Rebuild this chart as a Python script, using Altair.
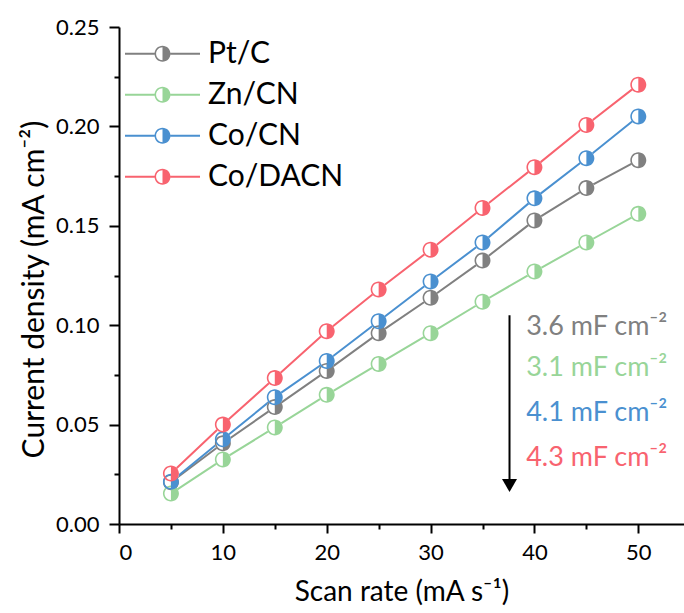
import altair as alt
import pandas as pd

# ---- data ----
scan_rate = [5, 10, 15, 20, 25, 30, 35, 40, 45, 50]
pt_c    = [0.0210, 0.0406, 0.0588, 0.0770, 0.0960, 0.1138, 0.1325, 0.1527, 0.1690, 0.1830]
zn_cn   = [0.0153, 0.0325, 0.0486, 0.0650, 0.0805, 0.0960, 0.1118, 0.1270, 0.1416, 0.1560]
co_cn   = [0.0213, 0.0426, 0.0638, 0.0820, 0.1020, 0.1220, 0.1416, 0.1638, 0.1840, 0.2050]
co_dacn = [0.0254, 0.0500, 0.0734, 0.0970, 0.1180, 0.1380, 0.1590, 0.1795, 0.2007, 0.2210]

series = ["Pt/C", "Zn/CN", "Co/CN", "Co/DACN"]
colors = ["#808080", "#98D598", "#4A90D0", "#F8636F"]

cap_labels = ["3.6 mF cm⁻²", "3.1 mF cm⁻²", "4.1 mF cm⁻²", "4.3 mF cm⁻²"]
cap_x = [39.2, 39.2, 39.2, 39.2]
cap_y = [0.099, 0.0785, 0.0558, 0.0332]

arrow_x = [37.6]
arrow_top = [0.105]
arrow_tip = [0.0194]

x_major = [0, 10, 20, 30, 40, 50]
x_minor = [5, 15, 25, 35, 45]
y_major = [0.0, 0.05, 0.10, 0.15, 0.20, 0.25]
y_minor = [0.025, 0.075, 0.125, 0.175, 0.225]

# ---- tables ----
values = {"Pt/C": pt_c, "Zn/CN": zn_cn, "Co/CN": co_cn, "Co/DACN": co_dacn}
df = pd.DataFrame(
    [{"series": s, "scan_rate": x, "density": v}
     for s in series for x, v in zip(scan_rate, values[s])]
)
ann = pd.DataFrame({"series": series, "label": cap_labels, "x": cap_x, "y": cap_y})
arr = pd.DataFrame({"x": arrow_x, "y": arrow_top, "y2": arrow_tip})

FONT = "Lato"
x_scale = alt.Scale(domain=[0, 54.4], nice=False, zero=False)
y_scale = alt.Scale(domain=[0, 0.25], nice=False)
# same mapping, listed in other orders so that the legend-less channels
# are not merged with the (only) legend of the colour channel
color_scale = alt.Scale(domain=series, range=colors)
stroke_scale = alt.Scale(domain=series[::-1], range=colors[::-1])
fill_scale = alt.Scale(domain=series[1:] + series[:1], range=colors[1:] + colors[:1])

# marker: ring + right half disk (unit coordinates)
R, ri = 1.0, 0.80
MARKER = (f"M{R},0 A{R},{R} 0 1,0 {-R},0 A{R},{R} 0 1,0 {R},0 Z "
          f"M{ri},0 A{ri},{ri} 0 1,1 {-ri},0 A{ri},{ri} 0 1,1 {ri},0 Z "
          f"M0,{-ri} A{ri},{ri} 0 0,1 0,{ri} Z")
# legend symbol: line segments + ring + right half disk, all filled shapes
LR, Lri, w = 0.2133, 0.1707, 0.0267
LEGEND_SYM = (f"M-1,{-w} L{-LR},{-w} L{-LR},{w} L-1,{w} Z "
              f"M{LR},{-w} L1,{-w} L1,{w} L{LR},{w} Z "
              f"M{LR},0 A{LR},{LR} 0 1,0 {-LR},0 A{LR},{LR} 0 1,0 {LR},0 Z "
              f"M{Lri},0 A{Lri},{Lri} 0 1,1 {-Lri},0 A{Lri},{Lri} 0 1,1 {Lri},0 Z "
              f"M0,{-Lri} A{Lri},{Lri} 0 0,1 0,{Lri} Z")

base = alt.Chart(df)
X = alt.X("scan_rate:Q", scale=x_scale, axis=None)
Y = alt.Y("density:Q", scale=y_scale, axis=None)

axes_major = base.mark_point(opacity=0).encode(
    x=alt.X("scan_rate:Q", scale=x_scale,
            axis=alt.Axis(values=x_major, format="d", orient="bottom",
                          title="Scan rate (mA s⁻¹)", tickSize=9,
                          labelPadding=9, titleFontSize=28,
                          titleBaseline="middle", titleY=68)),
    y=alt.Y("density:Q", scale=y_scale,
            axis=alt.Axis(values=y_major, format=".2f", orient="left",
                          title="Current density (mA cm⁻²)", tickSize=10,
                          labelPadding=10, titleFontSize=30,
                          titleBaseline="middle", titleAngle=-90,
                          titleX=-85, titleY=262)),
)
axes_minor = base.mark_point(opacity=0).encode(
    x=alt.X("scan_rate:Q", scale=x_scale,
            axis=alt.Axis(values=x_minor, orient="bottom", labels=False,
                          domain=False, title=None, tickSize=5)),
    y=alt.Y("density:Q", scale=y_scale,
            axis=alt.Axis(values=y_minor, orient="left", labels=False,
                          domain=False, title=None, tickSize=5)),
)

lines = base.mark_line(strokeWidth=2).encode(
    x=X, y=Y,
    stroke=alt.Stroke("series:N", scale=stroke_scale, legend=None),
)
bg = base.mark_point(shape="circle", filled=True, color="white", opacity=1, size=256).encode(
    x=X, y=Y, detail="series:N",
)
markers = base.mark_point(shape=MARKER, filled=True, opacity=1, size=256, strokeWidth=0).encode(
    x=X, y=Y,
    color=alt.Color("series:N", scale=color_scale,
                    legend=alt.Legend(title=None, orient="none", legendX=6, legendY=6.5,
                                      symbolType=LEGEND_SYM, symbolSize=5625,
                                      symbolStrokeWidth=0, symbolOpacity=1,
                                      labelFont=FONT, labelFontSize=30,
                                      labelColor="black", labelOffset=8,
                                      clipHeight=40.5, rowPadding=0, padding=0)),
)
texts = alt.Chart(ann).mark_text(align="left", baseline="middle", font=FONT, fontSize=27).encode(
    x=alt.X("x:Q", scale=x_scale, axis=None),
    y=alt.Y("y:Q", scale=y_scale, axis=None),
    text="label:N",
    fill=alt.Fill("series:N", scale=fill_scale, legend=None),
)
arrow_line = alt.Chart(arr).mark_rule(color="black", strokeWidth=2).encode(
    x=alt.X("x:Q", scale=x_scale, axis=None),
    y=alt.Y("y:Q", scale=y_scale, axis=None),
    y2="y2:Q",
)
arrow_head = alt.Chart(arr).mark_point(shape="triangle-down", filled=True, color="black",
                                       opacity=1, size=225).encode(
    x=alt.X("x:Q", scale=x_scale, axis=None),
    y=alt.Y("y2:Q", scale=y_scale, axis=None),
)

chart = alt.layer(axes_minor, axes_major, lines, bg, markers, texts, arrow_line, arrow_head).resolve_axis(
    x="independent", y="independent"
).properties(
    width=565, height=497,
    autosize=alt.AutoSizeParams(type="none"),
    padding={"left": 119, "top": 27, "right": 0, "bottom": 85},
    background="white",
).configure_view(stroke=None).configure_axis(
    grid=False, domainColor="black", domainWidth=2, tickColor="black", tickWidth=2,
    labelFont=FONT, labelFontSize=22, labelColor="black",
    titleFont=FONT, titleFontSize=26, titleFontWeight="normal", titleColor="black",
)

chart.save("out.html", embed_options={"renderer": "svg", "actions": False})
